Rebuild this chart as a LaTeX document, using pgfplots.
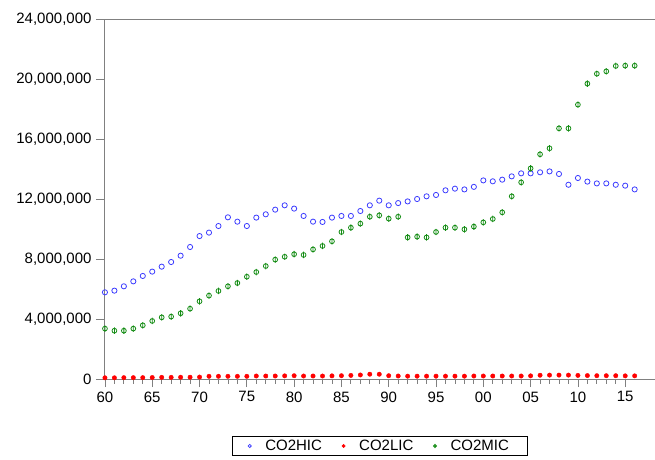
\documentclass[border=0pt]{standalone}
\usepackage{fontspec}
\setmainfont{Liberation Sans}
\usepackage{pgfplots}
\usepackage{pgfplotstable}
\pgfplotsset{compat=1.18}
\pgfdeclareplotmark{phi}{%
  \pgfpathcircle{\pgfpoint{0pt}{0pt}}{\pgfplotmarksize}%
  \pgfpathmoveto{\pgfpoint{0pt}{-1.35\pgfplotmarksize}}%
  \pgfpathlineto{\pgfpoint{0pt}{1.35\pgfplotmarksize}}%
  \pgfusepathqstroke}
\definecolor{hicblue}{RGB}{60,60,255}
\definecolor{licred}{RGB}{255,0,0}
\definecolor{micgreen}{RGB}{20,140,20}
\definecolor{axgray}{RGB}{128,128,128}

\pgfplotstableread{
year hic lic mic
1960 5.78 0.08 3.36
1961 5.89 0.08 3.22
1962 6.18 0.09 3.22
1963 6.51 0.09 3.36
1964 6.87 0.09 3.58
1965 7.16 0.10 3.87
1966 7.49 0.11 4.11
1967 7.80 0.11 4.16
1968 8.22 0.12 4.38
1969 8.80 0.12 4.69
1970 9.53 0.13 5.18
1971 9.76 0.18 5.56
1972 10.20 0.18 5.87
1973 10.78 0.18 6.18
1974 10.49 0.18 6.40
1975 10.20 0.18 6.82
1976 10.76 0.20 7.13
1977 10.98 0.20 7.53
1978 11.29 0.20 7.96
1979 11.58 0.21 8.15
1980 11.36 0.22 8.32
1981 10.87 0.20 8.27
1982 10.49 0.20 8.64
1983 10.47 0.20 8.87
1984 10.76 0.21 9.18
1985 10.87 0.22 9.80
1986 10.87 0.24 10.09
1987 11.20 0.27 10.36
1988 11.58 0.32 10.82
1989 11.89 0.32 10.91
1990 11.58 0.22 10.69
1991 11.73 0.20 10.82
1992 11.84 0.19 9.44
1993 12.00 0.19 9.49
1994 12.18 0.19 9.44
1995 12.27 0.19 9.80
1996 12.58 0.19 10.09
1997 12.69 0.19 10.09
1998 12.64 0.19 9.98
1999 12.81 0.20 10.16
2000 13.24 0.20 10.44
2001 13.18 0.20 10.67
2002 13.29 0.20 11.11
2003 13.51 0.20 12.18
2004 13.71 0.20 13.11
2005 13.71 0.21 14.04
2006 13.78 0.25 14.98
2007 13.84 0.26 15.38
2008 13.67 0.26 16.71
2009 12.95 0.26 16.71
2010 13.40 0.24 18.29
2011 13.16 0.23 19.69
2012 13.04 0.22 20.35
2013 13.04 0.22 20.51
2014 12.95 0.22 20.87
2015 12.89 0.21 20.89
2016 12.64 0.21 20.89
}\datatable

\begin{document}
\begin{tikzpicture}
\path[use as bounding box] (-104pt,-80pt) rectangle (551pt,379pt);
\begin{axis}[
  at={(0pt,0pt)}, anchor=south west,
  scale only axis, width=551pt, height=360pt,
  axis lines*=left,
  axis line style={axgray, line width=0.9pt},
  xmin=1959.9, xmax=2018.15,
  ymin=0, ymax=24,
  xtick={1960,1965,...,2015},
  xticklabels={60,65,70,75,80,85,90,95,00,05,10,15},
  minor x tick num=4,
  ytick={0,4,8,12,16,20,24},
  yticklabels={0,{4,000,000},{8,000,000},{12,000,000},{16,000,000},{20,000,000},{24,000,000}},
  tick align=outside,
  major tick length=8pt,
  minor tick length=4.5pt,
  tick style={axgray, line width=0.8pt},
  every tick label/.append style={font=\fontsize{15}{18}\selectfont, text=black},
  xticklabel style={yshift=-1pt},
  yticklabel style={xshift=-1pt},
  clip=false,
  legend columns=3,
  legend style={at={(0.5,-0.186)}, anchor=center, draw=black, line width=0.6pt,
    font=\fontsize{15}{18}\selectfont, inner xsep=16pt, inner ysep=1.5pt,
    /tikz/every odd column/.append style={column sep=12pt},
    /tikz/every even column/.append style={column sep=18pt}},
  legend image post style={mark size=1.6pt},
  legend cell align=left,
]
\draw[axgray, line width=0.9pt] (axis description cs:0,1) -- (axis description cs:1,1);
\addplot[only marks, mark=o, mark size=2.6pt, hicblue, mark options={line width=0.8pt}] table[x=year,y=hic] {\datatable};
\addlegendentry{CO2HIC}
\addplot[only marks, mark=*, mark size=2.2pt, licred] table[x=year,y=lic] {\datatable};
\addlegendentry{CO2LIC}
\addplot[only marks, mark=phi, mark size=2.4pt, micgreen, mark options={line width=0.8pt}] table[x=year,y=mic] {\datatable};
\addlegendentry{CO2MIC}
\end{axis}
\end{tikzpicture}
\end{document}
